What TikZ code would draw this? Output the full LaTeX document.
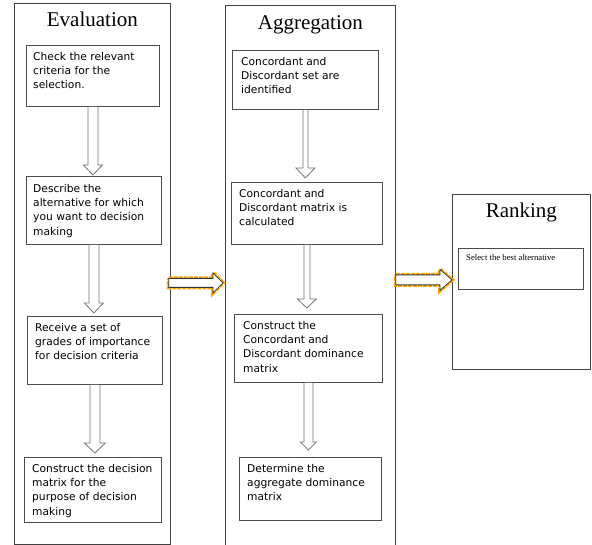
\documentclass[tikz,border=0pt]{standalone}
\usepackage{fontspec}
\setmainfont{Liberation Serif}
\newfontfamily\boxfont{DejaVu Sans}
\usetikzlibrary{calc}

% hollow block arrows: start, tip, half shaft, half head, head length
\newcommand{\downblock}[5]{%
  \draw[hollow] let \p1=(#1), \p2=(#2) in
    (\x1-#3,\y1) -- (\x1-#3,\y2+#5) -- (\x1-#4,\y2+#5) -- (\x1,\y2)
    -- (\x1+#4,\y2+#5) -- (\x1+#3,\y2+#5) -- (\x1+#3,\y1);}
\newcommand{\rightblock}[5]{%
  \draw[hollow, glow, draw=black!80] let \p1=(#1), \p2=(#2) in
    (\x1,\y1+#3) -- (\x2-#5,\y1+#3) -- (\x2-#5,\y1+#4) -- (\x2,\y1)
    -- (\x2-#5,\y1-#4) -- (\x2-#5,\y1-#3) -- (\x1,\y1-#3) -- cycle;}

\begin{document}
\begin{tikzpicture}[x=1pt, y=-1pt,
  frame/.style={draw=black!75, line width=0.8pt, anchor=north west, inner sep=0pt},
  title/.style={font=\fontsize{21}{24}\selectfont, anchor=base, inner sep=0pt},
  stepbox/.style={draw=black!70, line width=0.8pt, anchor=north west, inner sep=0pt},
  steptext/.style={font=\boxfont\fontsize{10.7}{14.3}\selectfont, align=left,
    anchor=north west, inner sep=0pt},
  hollow/.style={draw=black!55, line width=0.8pt, fill=white},
  glow/.style={preaction={draw=orange!70!yellow, densely dotted, line width=4pt}}
]
  \useasboundingbox (0,0) rectangle (592,545);

  % the three stages
  \node[frame, minimum width=156, minimum height=541] (eval) at (14,3) {};
  \node[frame, minimum width=170, minimum height=545] (agg) at (225,5) {};
  \node[frame, minimum width=138, minimum height=175] (rank) at (452,194) {};
  \node[title] (evaltitle) at ([yshift=-24pt]eval.north) {Evaluation};
  \node[title] (aggtitle) at ([yshift=-25pt]agg.north) {Aggregation};
  \node[title] (ranktitle) at ([yshift=-24pt]rank.north) {Ranking};

  % evaluation steps
  \node[stepbox, minimum width=133, minimum height=61] (check) at (26,45) {};
  \node[stepbox, minimum width=135, minimum height=68] (describe) at (26,176) {};
  \node[stepbox, minimum width=135, minimum height=68] (receive) at (27,316) {};
  \node[stepbox, minimum width=137, minimum height=65] (construct) at (24,457) {};
  \node[steptext] (checktxt) at ([shift={(7,7)}]check.north west)
    {Check the relevant\\criteria for the\\selection.};
  \node[steptext] (describetxt) at ([shift={(7,8)}]describe.north west)
    {Describe the\\alternative for which\\you want to decision\\making};
  \node[steptext] (receivetxt) at ([shift={(8,7)}]receive.north west)
    {Receive a set of\\grades of importance\\for decision criteria};
  \node[steptext] (constructtxt) at ([shift={(8,7)}]construct.north west)
    {Construct the decision\\matrix for the\\purpose of decision\\making};

  % aggregation steps
  \node[stepbox, minimum width=146, minimum height=59] (sets) at (232,50) {};
  \node[stepbox, minimum width=151, minimum height=62] (matrix) at (231,182) {};
  \node[stepbox, minimum width=148, minimum height=68] (dominance) at (234,314) {};
  \node[stepbox, minimum width=142, minimum height=63] (aggregate) at (239,457) {};
  \node[steptext] (setstxt) at ([shift={(9,7)}]sets.north west)
    {Concordant and\\Discordant set are\\identified};
  \node[steptext] (matrixtxt) at ([shift={(8,7)}]matrix.north west)
    {Concordant and\\Discordant matrix is\\calculated};
  \node[steptext] (dominancetxt) at ([shift={(9,7)}]dominance.north west)
    {Construct the\\Concordant and\\Discordant dominance\\matrix};
  \node[steptext] (aggregatetxt) at ([shift={(8,7)}]aggregate.north west)
    {Determine the\\aggregate dominance\\matrix};

  % ranking step
  \node[stepbox, minimum width=125, minimum height=41] (best) at (458,248) {};
  \node[anchor=north west, inner sep=0pt, font=\fontsize{8.7}{10}\selectfont]
    (besttxt) at ([shift={(8,6)}]best.north west) {Select the best alternative};

  % arrows inside the stages
  \downblock{check.south}{[yshift=1pt]describe.north}{5}{9.5}{10}
  \downblock{describe.south}{[yshift=3pt]receive.north}{5}{9.5}{10}
  \downblock{receive.south}{[yshift=4pt]construct.north}{5}{10.5}{10}
  \downblock{sets.south}{[yshift=4pt]matrix.north}{2.5}{9.5}{10}
  \downblock{matrix.south}{[yshift=6pt]dominance.north}{3}{9.5}{9}
  \downblock{dominance.south}{[yshift=7pt]aggregate.north}{4.5}{8}{8}

  % arrows between the stages
  \rightblock{[shift={(-2,9)}]eval.east}{[shift={(-2,8)}]agg.west}{4.5}{10}{10}
  \rightblock{[yshift=-2pt]agg.east}{rank.west}{5}{10.5}{12}
\end{tikzpicture}
\end{document}
